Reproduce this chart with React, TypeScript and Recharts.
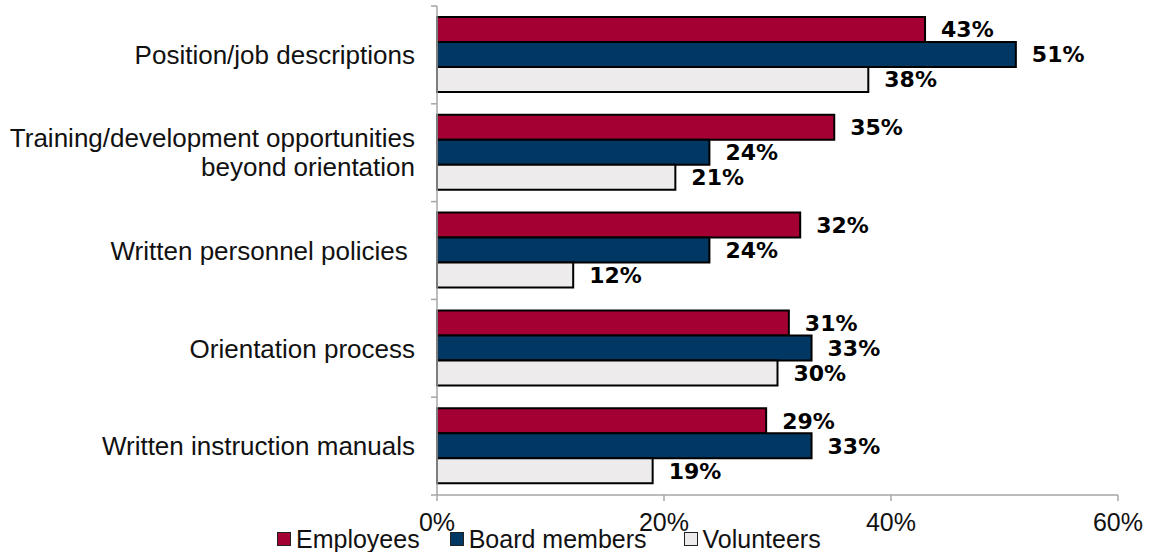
import React from 'react';
import { BarChart, Bar, XAxis, YAxis, Legend, LabelList } from 'recharts';

const categories = [
  'Position/job descriptions',
  'Training/development opportunities\nbeyond orientation',
  'Written personnel policies ',
  'Orientation process',
  'Written instruction manuals',
];
const seriesNames = ['Employees', 'Board members', 'Volunteers'];
const employees = [43, 35, 32, 31, 29];
const boardMembers = [51, 24, 24, 33, 33];
const volunteers = [38, 21, 12, 30, 19];
const xTicks = [0, 20, 40, 60];

const data = categories.map((name, i) => ({
  name,
  employees: employees[i],
  board: boardMembers[i],
  volunteers: volunteers[i],
}));

const AXIS_GREY = '#a6a6a6';
const FONT = '"Liberation Sans", Arial, sans-serif';
const TICK_SIZE = 6;
const TICK_MARGIN = 16;

const YTick = (props: any) => {
  const { x, y, payload, index, visibleTicksCount } = props;
  const lines = String(payload.value).split('\n');
  const lh = 29;
  const axisX = x + TICK_SIZE + TICK_MARGIN;
  const half = payload.offset || 48.8;
  const startY = y - ((lines.length - 1) * lh) / 2;
  return (
    <g>
      <line x1={axisX - TICK_SIZE} x2={axisX} y1={y - half} y2={y - half} stroke={AXIS_GREY} strokeWidth={1.5} />
      {index === visibleTicksCount - 1 && (
        <line x1={axisX - TICK_SIZE} x2={axisX} y1={y + half} y2={y + half} stroke={AXIS_GREY} strokeWidth={1.5} />
      )}
      <text x={x} y={startY} textAnchor="end" fontFamily={FONT} fontSize={26} fill="#111" style={{ whiteSpace: 'pre' }}>
        {lines.map((l, i) => (
          <tspan key={i} x={x} y={startY + i * lh} dy="0.355em">
            {l}
          </tspan>
        ))}
      </text>
    </g>
  );
};

const legendGaps = [30, 37, 0];

const renderLegend = (props: any) => {
  const payload = [...(props.payload || [])].sort(
    (a: any, b: any) => seriesNames.indexOf(a.value) - seriesNames.indexOf(b.value)
  );
  return (
    <div style={{ display: 'flex', alignItems: 'center', fontFamily: FONT, fontSize: 25, lineHeight: '28px', whiteSpace: 'nowrap', color: '#111' }}>
      {payload.map((e: any, i: number) => (
        <div key={i} style={{ display: 'flex', alignItems: 'center', marginRight: legendGaps[i] }}>
          <span style={{ display: 'inline-block', width: 14, height: 14, background: e.color, border: '1px solid #222', boxSizing: 'border-box', marginRight: 5 }} />
          <span>{e.value}</span>
        </div>
      ))}
    </div>
  );
};

const labelStyle = { fontFamily: '"DejaVu Sans", sans-serif', fontSize: 22, fontWeight: 700, fill: '#000' };

export default function App() {
  return (
    <div style={{ position: 'absolute', left: 0, top: 0, width: 1156, height: 552, background: '#fff' }}>
      <BarChart
        width={1156}
        height={552}
        data={data}
        layout="vertical"
        margin={{ top: 6, right: 38, left: 0, bottom: 27 }}
        barCategoryGap={11}
        barGap={0}
      >
        <XAxis
          type="number"
          domain={[0, 60]}
          ticks={xTicks}
          tickFormatter={(v: number) => `${v}%`}
          height={30}
          tickSize={6}
          tickMargin={12}
          stroke={AXIS_GREY}
          strokeWidth={1.5}
          tick={{ fontFamily: FONT, fontSize: 25, fill: '#111' }}
        />
        <YAxis
          type="category"
          dataKey="name"
          width={437}
          tickLine={false}
          tickSize={TICK_SIZE}
          tickMargin={TICK_MARGIN}
          axisLine={{ stroke: AXIS_GREY, strokeWidth: 1.5 }}
          tick={<YTick />}
          interval={0}
        />
        <Legend
          content={renderLegend}
          layout="horizontal"
          align="center"
          verticalAlign="middle"
          wrapperStyle={{ top: 525, left: 277, width: 'auto', height: 28 }}
        />
        <Bar dataKey="employees" name={seriesNames[0]} fill="#A50034" stroke="#000" strokeWidth={2} isAnimationActive={false}>
          <LabelList dataKey="employees" position="right" offset={16} formatter={(v: any) => `${v}%`} style={labelStyle} />
        </Bar>
        <Bar dataKey="board" name={seriesNames[1]} fill="#003763" stroke="#000" strokeWidth={2} isAnimationActive={false}>
          <LabelList dataKey="board" position="right" offset={16} formatter={(v: any) => `${v}%`} style={labelStyle} />
        </Bar>
        <Bar dataKey="volunteers" name={seriesNames[2]} fill="#EDEBEB" stroke="#000" strokeWidth={2} isAnimationActive={false}>
          <LabelList dataKey="volunteers" position="right" offset={16} formatter={(v: any) => `${v}%`} style={labelStyle} />
        </Bar>
      </BarChart>
    </div>
  );
}
